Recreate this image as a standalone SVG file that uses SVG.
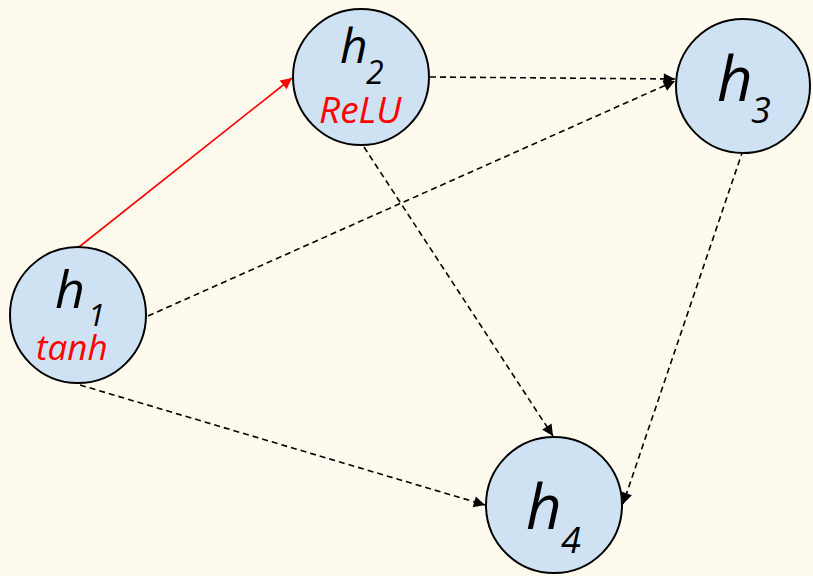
<svg xmlns="http://www.w3.org/2000/svg" width="813" height="576" viewBox="0 0 813 576">
<style>
.node{fill:#cfe2f3;stroke:#000;stroke-width:2}
.lbl{font-family:"Open Sans","DejaVu Sans",sans-serif;font-style:italic;fill:#000}
.act{font-family:"Open Sans","DejaVu Sans",sans-serif;font-style:italic;fill:#ff0000}
.dash{stroke:#000;stroke-width:1.6;stroke-dasharray:6,4;fill:none;marker-end:url(#ah)}
.red{stroke:#ff0000;stroke-width:1.6;fill:none;marker-end:url(#ahr)}
</style>
<defs>
<marker id="ah" viewBox="0 0 10 10" refX="10" refY="5" markerWidth="8" markerHeight="8" markerUnits="userSpaceOnUse" orient="auto" overflow="visible">
<path d="M0,0 L10,5 L0,10 z" fill="#000" transform="scale(1.4)translate(-2.9,-1.45)"/>
</marker>
<marker id="ahr" viewBox="0 0 10 10" refX="10" refY="5" markerWidth="8" markerHeight="8" markerUnits="userSpaceOnUse" orient="auto" overflow="visible">
<path d="M0,0 L10,5 L0,10 z" fill="#ff0000" transform="scale(1.4)translate(-2.9,-1.45)"/>
</marker>
</defs>
<rect width="813" height="576" fill="#fffaee"/>
<g id="connectors">
<line class="red" x1="79" y1="247" x2="292" y2="78"/>
<line class="dash" x1="430" y1="77" x2="675" y2="79"/>
<line class="dash" x1="148" y1="316" x2="675" y2="81"/>
<line class="dash" x1="364" y1="147" x2="553" y2="436"/>
<line class="dash" x1="743" y1="150" x2="623" y2="504"/>
<line class="dash" x1="80" y1="385" x2="485" y2="505"/>
</g>
<g id="h1">
<circle class="node" cx="78" cy="315" r="68"/>
<text class="lbl" x="55" y="308" font-size="52">h</text>
<text class="lbl" x="88" y="326" font-size="31">1</text>
<text class="act" x="36" y="360" font-size="35">tanh</text>
</g>
<g id="h2">
<circle class="node" cx="361" cy="77" r="68"/>
<text class="lbl" x="340" y="63" font-size="48">h</text>
<text class="lbl" x="366" y="84" font-size="32">2</text>
<text class="act" x="319" y="123" font-size="37">ReLU</text>
</g>
<g id="h3">
<circle class="node" cx="743" cy="86" r="67"/>
<text class="lbl" x="717" y="101" font-size="62">h</text>
<text class="lbl" x="751" y="123" font-size="36">3</text>
</g>
<g id="h4">
<circle class="node" cx="554" cy="505" r="68"/>
<text class="lbl" x="526" y="529" font-size="62">h</text>
<text class="lbl" x="561" y="553" font-size="36">4</text>
</g>
</svg>
